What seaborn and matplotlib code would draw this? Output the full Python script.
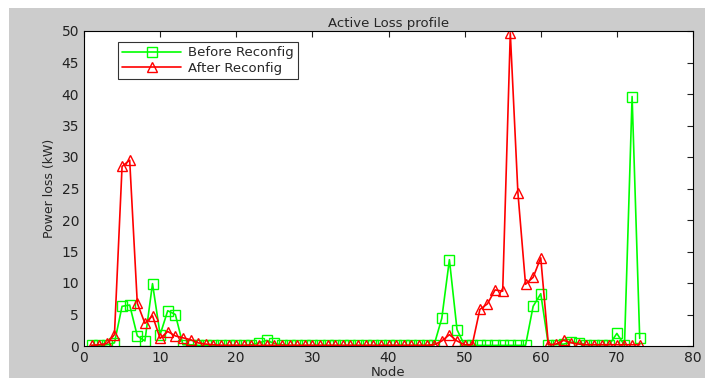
import numpy as np
import pandas as pd
import seaborn as sns
import matplotlib.pyplot as plt
from matplotlib.patches import Rectangle

# node numbers
nodes = list(range(1, 74))

# power loss before reconfiguration (kW)
before = [0.1, 0.1, 0.2, 0.5, 6.3, 6.5, 1.6, 0.8, 9.9, 1.8,
          5.6, 5.0, 0.2, 0.2, 0.1, 0.1, 0.1, 0.1, 0.1, 0.1,
          0.1, 0.2, 0.5, 0.9, 0.4, 0.2, 0.1, 0.1, 0.1, 0.1,
          0.1, 0.1, 0.1, 0.1, 0.1, 0.1, 0.1, 0.1, 0.1, 0.1,
          0.1, 0.1, 0.1, 0.1, 0.1, 0.2, 4.4, 13.7, 2.6, 0.1,
          0.1, 0.1, 0.1, 0.1, 0.1, 0.1, 0.1, 0.1, 6.3, 8.3,
          0.2, 0.2, 0.3, 0.6, 0.5, 0.2, 0.2, 0.2, 0.2, 2.0,
          0.1, 39.6, 1.2]

# power loss after reconfiguration (kW)
after = [0.1, 0.2, 0.4, 1.8, 28.5, 29.5, 6.8, 3.6, 4.8, 1.2,
         2.3, 1.6, 1.3, 1.0, 0.5, 0.3, 0.2, 0.1, 0.1, 0.1,
         0.1, 0.1, 0.1, 0.1, 0.1, 0.1, 0.1, 0.1, 0.1, 0.1,
         0.1, 0.1, 0.1, 0.1, 0.1, 0.1, 0.1, 0.1, 0.1, 0.1,
         0.1, 0.1, 0.1, 0.1, 0.1, 0.2, 0.8, 1.8, 0.8, 0.2,
         0.2, 5.8, 6.7, 8.9, 8.7, 49.7, 24.3, 9.8, 10.9, 14.0,
         0.2, 0.3, 0.9, 0.5, 0.3, 0.2, 0.2, 0.2, 0.2, 0.2,
         0.2, 0.2, 0.2]

df = pd.DataFrame({'node': nodes, 'before': before, 'after': after})

sns.set_style("white")
plt.rcParams['font.family'] = ['DejaVu Sans']

fig = plt.figure(figsize=(7.05, 3.78), dpi=100)
fig.patch.set_facecolor('#cccccc')
# white strips at top and left of the window grab
fig.patches.append(Rectangle((0, 0), 9 / 705, 1, transform=fig.transFigure,
                             facecolor='white', edgecolor='none', zorder=-1))
fig.patches.append(Rectangle((0, 1 - 8 / 378), 1, 8 / 378, transform=fig.transFigure,
                             facecolor='white', edgecolor='none', zorder=-1))

ax = fig.add_axes([84 / 705, 1 - 346 / 378, (693 - 84) / 705, (346 - 31) / 378])
ax.set_facecolor('white')

sns.lineplot(x='node', y='before', data=df, ax=ax, color='#00ff00', linewidth=1.2,
             marker='s', markersize=6.5, markerfacecolor='none',
             markeredgecolor='#00ff00', markeredgewidth=1, label='Before Reconfig')
sns.lineplot(x='node', y='after', data=df, ax=ax, color='#ff0000', linewidth=1.2,
             marker='^', markersize=7.5, markerfacecolor='none',
             markeredgecolor='#ff0000', markeredgewidth=1, label='After Reconfig')

ax.set_xlim(0, 80)
ax.set_ylim(0, 50)
ax.set_xticks(range(0, 81, 10))
ax.set_yticks(range(0, 51, 5))
ax.tick_params(direction='in', top=True, right=True, length=4, width=0.8,
               labelsize=10, colors='#222222')
for s in ax.spines.values():
    s.set_color('black')
    s.set_linewidth(0.8)

ax.set_title('Active Loss profile', fontsize=9.5, pad=3)
ax.set_xlabel('Node', fontsize=9.5, labelpad=1)
ax.set_ylabel('Power loss (kW)', fontsize=9, labelpad=4)

leg = ax.legend(loc='upper left', bbox_to_anchor=(0.045, 0.985), fontsize=9.5,
                frameon=True, fancybox=False, handlelength=4.5, borderpad=0.3,
                labelspacing=0.2, handletextpad=0.5)
leg.get_frame().set_edgecolor('black')
leg.get_frame().set_linewidth(0.8)

fig.savefig('out.png', dpi=100, facecolor=fig.get_facecolor())
